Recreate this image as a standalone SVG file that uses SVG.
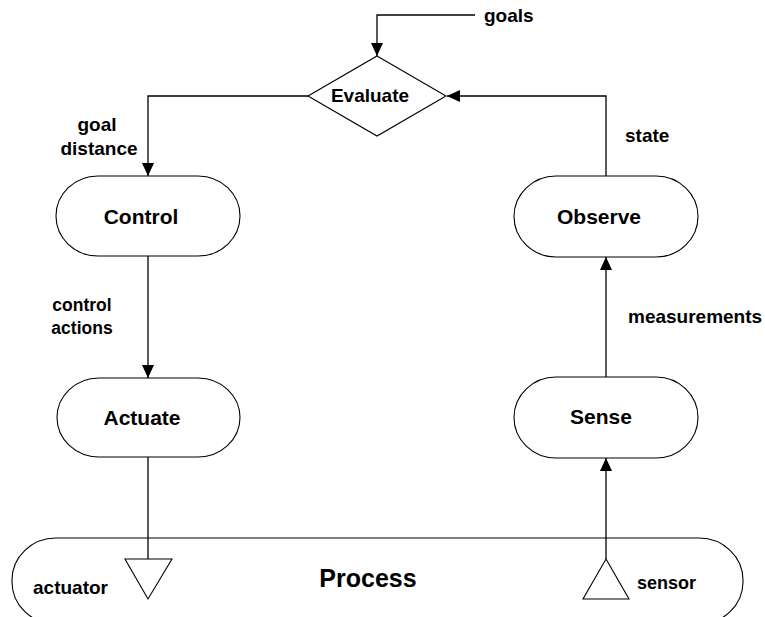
<svg xmlns="http://www.w3.org/2000/svg" width="765" height="617" viewBox="0 0 765 617">
  <style>
    .shape { fill: #fff; stroke: #000; stroke-width: 1.1; }
    .wire { fill: none; stroke: #000; stroke-width: 1.3; }
    .node-label { font-family: "Liberation Sans", Arial, sans-serif; font-weight: bold; font-size: 21px; fill: #000; }
    .label { font-family: "Liberation Sans", Arial, sans-serif; font-weight: bold; font-size: 19px; fill: #000; }
  </style>
  <defs>
    <marker id="arrow" markerWidth="13" markerHeight="12" refX="13" refY="6" orient="auto" markerUnits="userSpaceOnUse">
      <path d="M0,0 L13,6 L0,12 Z" fill="#000"/>
    </marker>
  </defs>

  <rect width="765" height="617" fill="#fff"/>

  <!-- process band across the bottom -->
  <g id="process">
    <rect class="shape" x="12" y="538" width="731" height="86" rx="44" ry="42"/>
    <text class="label" x="368" y="587" text-anchor="middle" style="font-size:25px">Process</text>
    <polygon id="actuator" class="shape" points="125,559 172,559 148,599"/>
    <text class="label" x="33" y="594">actuator</text>
    <polygon id="sensor" class="shape" points="606,559 629,599 583,599"/>
    <text class="label" x="637" y="589" style="font-size:18px">sensor</text>
  </g>

  <!-- connectors -->
  <g id="connectors">
    <polyline class="wire" points="475,15 377,15 377,56" marker-end="url(#arrow)"/>
    <polyline class="wire" points="308,96 148,96 148,176" marker-end="url(#arrow)"/>
    <line class="wire" x1="148" y1="256" x2="148" y2="378" marker-end="url(#arrow)"/>
    <line class="wire" x1="148" y1="457" x2="148" y2="559"/>
    <line class="wire" x1="606" y1="559" x2="606" y2="458" marker-end="url(#arrow)"/>
    <line class="wire" x1="606" y1="377" x2="606" y2="257" marker-end="url(#arrow)"/>
    <polyline class="wire" points="606,176 606,96 447,96" marker-end="url(#arrow)"/>
  </g>

  <!-- connector labels -->
  <g id="labels">
    <text class="label" x="484" y="22">goals</text>
    <text class="label" x="97" y="131" text-anchor="middle">goal</text>
    <text class="label" x="99" y="155" text-anchor="middle">distance</text>
    <text class="label" x="82" y="311" text-anchor="middle" style="font-size:17.5px">control</text>
    <text class="label" x="82" y="334" text-anchor="middle" style="font-size:17.5px">actions</text>
    <text class="label" x="625" y="142">state</text>
    <text class="label" x="628" y="323">measurements</text>
  </g>

  <g id="evaluate">
    <polygon class="shape" points="377,56 446,96 377,136 308,96"/>
    <text class="node-label" x="370" y="102" text-anchor="middle" style="font-size:19px">Evaluate</text>
  </g>

  <g id="control">
    <rect class="shape" x="56" y="176" width="184" height="80" rx="42" ry="40"/>
    <text class="node-label" x="141" y="224" text-anchor="middle">Control</text>
  </g>

  <g id="actuate">
    <rect class="shape" x="57" y="378" width="183" height="79" rx="42" ry="39.5"/>
    <text class="node-label" x="142" y="425" text-anchor="middle">Actuate</text>
  </g>

  <g id="observe">
    <rect class="shape" x="514" y="176" width="184" height="81" rx="42" ry="40.5"/>
    <text class="node-label" x="599" y="224" text-anchor="middle">Observe</text>
  </g>

  <g id="sense">
    <rect class="shape" x="514" y="377" width="184" height="81" rx="42" ry="40.5"/>
    <text class="node-label" x="601" y="424" text-anchor="middle">Sense</text>
  </g>
</svg>
